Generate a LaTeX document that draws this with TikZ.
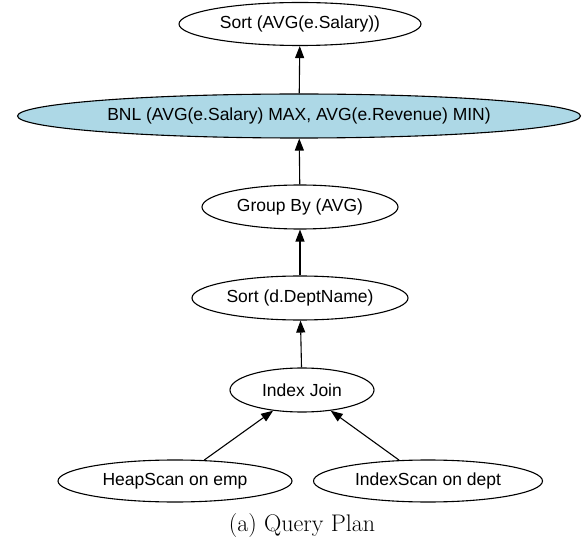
\documentclass[tikz,border=0pt]{standalone}
\usepackage{fontspec}
\newfontfamily\graphfont{Liberation Sans}
\usetikzlibrary{arrows.meta,shapes.geometric}

\tikzset{
  op/.style={ellipse, draw=black, line width=1.1pt, inner sep=0pt,
    font=\graphfont\fontsize{17.5}{21}\selectfont},
  arr/.style={line width=1.1pt, -{Triangle[length=12pt,width=9pt]}},
}
\definecolor{lightblue}{HTML}{ADD8E6}

\begin{document}
\begin{tikzpicture}[x=1pt,y=-1pt]
  \useasboundingbox (0,0) rectangle (584,540);

  % operator nodes of the plan, top to bottom
  \node[op, minimum width=242pt, minimum height=43pt] (sorttop) at (300,24) {Sort (AVG(e.Salary))};
  \node[op, fill=lightblue, minimum width=563pt, minimum height=44pt] (bnl) at (299,116) {BNL (AVG(e.Salary) MAX, AVG(e.Revenue) MIN)};
  \node[op, minimum width=196pt, minimum height=44pt] (group) at (300,207) {Group By (AVG)};
  \node[op, minimum width=216pt, minimum height=44pt] (sortd) at (300,298) {Sort (d.DeptName)};
  \node[op, minimum width=144pt, minimum height=44pt] (join) at (302,390) {Index Join};
  \node[op, minimum width=234pt, minimum height=42pt] (heap) at (175,481) {HeapScan on emp};
  \node[op, minimum width=229pt, minimum height=42pt] (iscan) at (428,481) {IndexScan on dept};

  % data flows upward
  \draw[arr] (heap) -- (join);
  \draw[arr] (iscan) -- (join);
  \draw[arr] (join) -- (sortd);
  \draw[arr] (sortd) -- (group);
  \draw[arr] (group) -- (bnl);
  \draw[arr] (bnl) -- (sorttop);

  % caption
  \node[font=\fontsize{24}{28}\selectfont, anchor=base] (cap) at (302,531) {(a) Query Plan};
\end{tikzpicture}
\end{document}
